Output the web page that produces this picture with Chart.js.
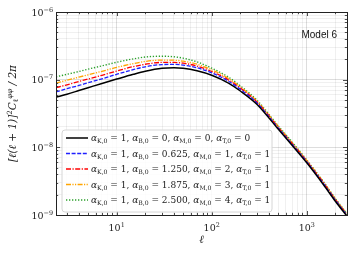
<!DOCTYPE html>
<html>
<head>
<meta charset="utf-8">
<script src="https://cdn.jsdelivr.net/npm/chart.js@4.4.0/dist/chart.umd.min.js"></script>
<style>
  html, body { margin: 0; padding: 0; background: #fff; }
  #wrap { width: 354px; height: 253px; }
</style>
</head>
<body>
<div id="wrap"><canvas id="c" width="354" height="253"></canvas></div>
<script>
// multipoles
const ells = [2.3, 3, 4, 5, 7, 10, 15, 20, 30, 40, 50, 70, 100, 150, 200, 300, 500, 700, 1000, 1500, 2000, 2650];

// [l(l+1)]^2 C_l^phiphi / 2pi
const clModel0 = [5.5e-8, 6.1e-8, 6.9e-8, 7.6e-8, 8.8e-8, 1.02e-7, 1.2e-7, 1.33e-7, 1.47e-7, 1.5e-7, 1.47e-7, 1.35e-7, 1.16e-7, 8.9e-8, 6.8e-8, 4.3e-8, 1.86e-8, 1.07e-8, 5.9e-9, 2.8e-9, 1.6e-9, 9.6e-10];
const clModel1 = [6.6e-8, 7.35e-8, 8.2e-8, 9.0e-8, 1.03e-7, 1.2e-7, 1.41e-7, 1.55e-7, 1.67e-7, 1.68e-7, 1.64e-7, 1.5e-7, 1.26e-7, 9.5e-8, 7.2e-8, 4.5e-8, 1.93e-8, 1.11e-8, 6.1e-9, 2.9e-9, 1.65e-9, 9.9e-10];
const clModel2 = [7.6e-8, 8.4e-8, 9.4e-8, 1.02e-7, 1.16e-7, 1.34e-7, 1.56e-7, 1.69e-7, 1.8e-7, 1.8e-7, 1.75e-7, 1.59e-7, 1.32e-7, 9.9e-8, 7.5e-8, 4.65e-8, 1.98e-8, 1.14e-8, 6.25e-9, 2.98e-9, 1.69e-9, 1.01e-9];
const clModel3 = [8.9e-8, 9.8e-8, 1.09e-7, 1.18e-7, 1.33e-7, 1.52e-7, 1.73e-7, 1.86e-7, 1.95e-7, 1.94e-7, 1.88e-7, 1.69e-7, 1.4e-7, 1.04e-7, 7.8e-8, 4.8e-8, 2.03e-8, 1.17e-8, 6.4e-9, 3.05e-9, 1.72e-9, 1.03e-9];
const clModel4 = [1.1e-7, 1.2e-7, 1.32e-7, 1.43e-7, 1.6e-7, 1.81e-7, 2.03e-7, 2.16e-7, 2.22e-7, 2.18e-7, 2.08e-7, 1.83e-7, 1.48e-7, 1.09e-7, 8.1e-8, 4.95e-8, 2.08e-8, 1.2e-8, 6.5e-9, 3.1e-9, 1.75e-9, 1.05e-9];

// legend parameters
const alphaK = ["1", "1", "1", "1", "1"];
const alphaB = ["0", "0.625", "1.250", "1.875", "2.500"];
const alphaM = ["0", "1", "2", "3", "4"];
const alphaT = ["0", "1", "1", "1", "1"];

// axis ticks
const xMajor = [10, 100, 1000];
const xMajorExp = ["1", "2", "3"];
const yMajor = [1e-9, 1e-8, 1e-7, 1e-6];
const yMajorExp = ["\u22129", "\u22128", "\u22127", "\u22126"];

const X_MIN = 2.3, X_MAX = 2650;
const Y_MIN = 1e-9, Y_MAX = 1e-6;

const series = [clModel0, clModel1, clModel2, clModel3, clModel4];
const colors = ["#000000", "#1f1fff", "#ff0000", "#ffa500", "#2ca02c"];
const dashes = [[], [4, 1.6], [5, 1.5, 1.2, 1.5], [5, 1.4, 1.2, 1.4, 1.2, 1.4], [1.3, 1.7]];
const widths = [1.5, 1.3, 1.3, 1.3, 1.4];

// minor + major tick positions
function logTicks(lo, hi) {
  const out = [];
  for (let e = Math.floor(Math.log10(lo)); e <= Math.ceil(Math.log10(hi)); e++) {
    for (let m = 1; m <= 9; m++) {
      const v = m * Math.pow(10, e);
      if (v >= lo * 0.9999 && v <= hi * 1.0001) out.push(v);
    }
  }
  return out;
}
const xTickVals = logTicks(X_MIN, X_MAX);
const yTickVals = logTicks(Y_MIN, Y_MAX);

function isDecade(v) {
  const l = Math.log10(v);
  return Math.abs(l - Math.round(l)) < 1e-6;
}

// ======================
// rich text (sub / superscripts)
// ======================
const SERIF = "'DejaVu Serif', serif";
function partFont(p, size) {
  const s = p.s === "n" ? size : size * 0.68;
  return (p.i ? "italic " : "") + s.toFixed(2) + "px " + SERIF;
}
function richWidth(ctx, parts, size) {
  let w = 0;
  parts.forEach(p => { ctx.font = partFont(p, size); w += ctx.measureText(p.t).width; });
  return w;
}
function drawRich(ctx, parts, x, y, size, align) {
  let w = richWidth(ctx, parts, size);
  let cx = align === "right" ? x - w : align === "center" ? x - w / 2 : x;
  ctx.textBaseline = "alphabetic";
  ctx.textAlign = "left";
  parts.forEach(p => {
    ctx.font = partFont(p, size);
    let dy = 0;
    if (p.s === "sub") dy = size * 0.22;
    if (p.s === "sup") dy = -size * 0.42;
    ctx.fillText(p.t, cx, y + dy);
    cx += ctx.measureText(p.t).width;
  });
}
const N = (t, i) => ({ t: t, s: "n", i: !!i });
const SUB = t => ({ t: t, s: "sub", i: false });
const SUP = (t, i) => ({ t: t, s: "sup", i: !!i });

function legendParts(k) {
  return [
    N("\u03b1", true), SUB("K,0"), N(" = " + alphaK[k] + ", "),
    N("\u03b1", true), SUB("B,0"), N(" = " + alphaB[k] + ", "),
    N("\u03b1", true), SUB("M,0"), N(" = " + alphaM[k] + ", "),
    N("\u03b1", true), SUB("T,0"), N(" = " + alphaT[k])
  ];
}

// ======================
// frame, ticks, labels, legend
// ======================
const decorations = {
  id: "decorations",
  afterDatasetsDraw(chart) {
    const ctx = chart.ctx;
    const a = chart.chartArea;
    const xs = chart.scales.x, ys = chart.scales.y;
    ctx.save();

    // frame
    ctx.strokeStyle = "#222";
    ctx.lineWidth = 1;
    ctx.strokeRect(Math.round(a.left) + 0.5, Math.round(a.top) + 0.5,
      Math.round(a.right - a.left), Math.round(a.bottom - a.top));

    // inward ticks on all sides
    ctx.beginPath();
    xTickVals.forEach(v => {
      const px = Math.round(xs.getPixelForValue(v)) + 0.5;
      const len = isDecade(v) ? 4 : 2.2;
      ctx.moveTo(px, a.bottom); ctx.lineTo(px, a.bottom - len);
      ctx.moveTo(px, a.top); ctx.lineTo(px, a.top + len);
    });
    yTickVals.forEach(v => {
      const py = Math.round(ys.getPixelForValue(v)) + 0.5;
      const len = isDecade(v) ? 4 : 2.2;
      ctx.moveTo(a.left, py); ctx.lineTo(a.left + len, py);
      ctx.moveTo(a.right, py); ctx.lineTo(a.right - len, py);
    });
    ctx.lineWidth = 0.8;
    ctx.stroke();

    // tick labels
    ctx.fillStyle = "#222";
    xMajor.forEach((v, i) => {
      drawRich(ctx, [N("10"), SUP(xMajorExp[i])], xs.getPixelForValue(v), a.bottom + 16, 9.5, "center");
    });
    yMajor.forEach((v, i) => {
      drawRich(ctx, [N("10"), SUP(yMajorExp[i])], a.left - 3, ys.getPixelForValue(v) + 3.5, 9.5, "right");
    });

    // axis titles
    drawRich(ctx, [N("\u2113", true)], (a.left + a.right) / 2, a.bottom + 28, 11, "center");
    ctx.save();
    ctx.translate(16, (a.top + a.bottom) / 2);
    ctx.rotate(-Math.PI / 2);
    drawRich(ctx, [N("[\u2113(\u2113 + 1)]", true), SUP("2"), N("C", true), SUB("\u2113"),
      SUP("\u03c6\u03c6", true), N(" / 2\u03c0", true)], 0, 0, 10.5, "center");
    ctx.restore();

    // annotation
    ctx.font = "10px 'Liberation Sans', Arial, sans-serif";
    ctx.textAlign = "right";
    ctx.textBaseline = "middle";
    ctx.fillStyle = "#111";
    ctx.fillText("Model 6", a.right - 10, 35);

    // legend box
    const bx = 62, by = 130, bw = 210, bh = 82, r = 3;
    ctx.beginPath();
    ctx.moveTo(bx + r, by);
    ctx.arcTo(bx + bw, by, bx + bw, by + bh, r);
    ctx.arcTo(bx + bw, by + bh, bx, by + bh, r);
    ctx.arcTo(bx, by + bh, bx, by, r);
    ctx.arcTo(bx, by, bx + bw, by, r);
    ctx.closePath();
    ctx.fillStyle = "rgba(255,255,255,0.85)";
    ctx.fill();
    ctx.strokeStyle = "#d6d6d6";
    ctx.lineWidth = 1;
    ctx.stroke();

    chart.data.datasets.forEach((ds, k) => {
      const yy = 138 + k * 15.5;
      ctx.beginPath();
      ctx.setLineDash(ds.borderDash);
      ctx.strokeStyle = ds.borderColor;
      ctx.lineWidth = ds.borderWidth;
      ctx.moveTo(66, yy); ctx.lineTo(88, yy);
      ctx.stroke();
      ctx.setLineDash([]);
      ctx.fillStyle = "#222";
      drawRich(ctx, legendParts(k), 91, yy + 3.3, 9, "left");
    });

    ctx.restore();
  }
};

const gridColor = c => (c.tick && isDecade(c.tick.value)) ? "rgba(0,0,0,0.17)" : "rgba(0,0,0,0.08)";

new Chart(document.getElementById("c"), {
  type: "line",
  data: {
    datasets: series.map((s, k) => ({
      label: "model " + k,
      data: ells.map((l, i) => ({ x: l, y: s[i] })),
      borderColor: colors[k],
      borderWidth: widths[k],
      borderDash: dashes[k],
      pointRadius: 0,
      fill: false,
      cubicInterpolationMode: "monotone"
    }))
  },
  options: {
    responsive: false,
    animation: false,
    devicePixelRatio: 1,
    layout: { padding: { top: 12, right: 7, left: 0, bottom: 0 } },
    plugins: { legend: { display: false }, tooltip: { enabled: false } },
    scales: {
      x: {
        type: "logarithmic",
        min: X_MIN, max: X_MAX,
        afterBuildTicks: s => { s.ticks = xTickVals.map(v => ({ value: v })); },
        afterFit: s => { s.height = 38; },
        ticks: { display: false },
        grid: { color: gridColor, lineWidth: 0.8, drawTicks: false },
        border: { display: false }
      },
      y: {
        type: "logarithmic",
        min: Y_MIN, max: Y_MAX,
        afterBuildTicks: s => { s.ticks = yTickVals.map(v => ({ value: v })); },
        afterFit: s => { s.width = 56; },
        ticks: { display: false },
        grid: { color: gridColor, lineWidth: 0.8, drawTicks: false },
        border: { display: false }
      }
    }
  },
  plugins: [decorations]
});
</script>
</body>
</html>
